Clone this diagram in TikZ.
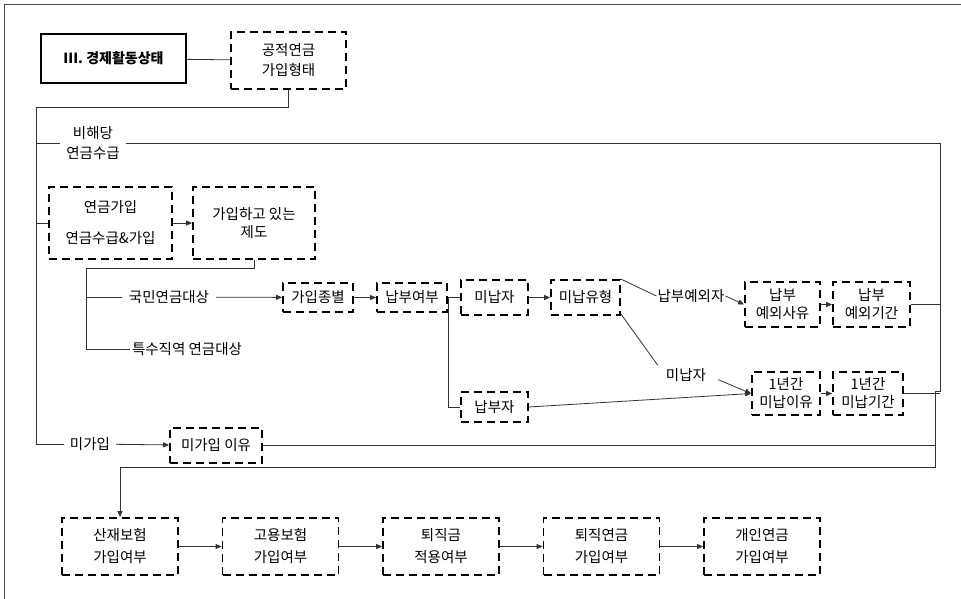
\documentclass[tikz,border=0pt]{standalone}
\usepackage{fontspec}
\setmainfont{Noto Sans CJK KR}
\usetikzlibrary{arrows.meta}

\begin{document}
\begin{tikzpicture}[x=1pt, y=-1pt, >={Triangle[length=6pt, width=5pt]},
    box/.style={draw, dash pattern=on 8pt off 5pt, line width=1.8pt, inner sep=0pt,
        align=center, font=\fontsize{14.5}{18}\selectfont},
    tag/.style={inner sep=6pt, align=center, font=\fontsize{14.5}{20}\selectfont},
    link/.style={line width=0.8pt, draw=black!80}]

    \useasboundingbox (0,0) rectangle (961,599);

    % Frame
    \draw[black!70, line width=0.8pt] (4,599) -- (4,4) -- (961,4);

    % Top
    \node[draw, line width=2pt, minimum width=145pt, minimum height=49pt,
        font=\fontsize{14}{18}\selectfont\bfseries] (iii) at (113.5,58.5) {III. 경제활동상태};
    \node[box, minimum width=115pt, minimum height=57pt] (gongjeok) at (288.5,60.5) {공적연금\\[2pt]가입형태};
    \draw[link] (iii) -- (gongjeok);

    % Trunk coordinates
    \coordinate (tl) at (36,107);
    \coordinate (bl) at (36,444);
    \coordinate (b1) at (36,143);
    \coordinate (b2) at (36,223);
    \coordinate (tr) at (940,143);
    \coordinate (rm) at (940,391);
    \coordinate (rm2) at (935,391);
    \coordinate (br) at (935,467);
    \coordinate (bb) at (120,467);

    % Labels
    \node[tag] (bihaedang) at (93,143) {비해당\\연금수급};
    \node[tag] (migaip) at (90,444) {미가입};
    \node[tag, inner sep=7pt] (gukmin) at (169,297) {국민연금대상};
    \node[tag, inner sep=2pt] (teuksu) at (187,349) {특수직역 연금대상};
    \node[tag, inner sep=1pt] (yeoeja) at (691,296) {납부예외자};
    \node[tag, inner sep=1pt] (minapja) at (686,375) {미납자};

    % Boxes
    \node[box, minimum width=123pt, minimum height=72pt] (gaip) at (110.5,223) {연금가입\\[13pt]연금수급\&가입};
    \node[box, minimum width=122pt, minimum height=72pt] (jedo) at (254,223) {가입하고 있는\\제도};
    \node[box, minimum width=70pt, minimum height=29pt] (jongbyeol) at (318,297.5) {가입종별};
    \node[box, minimum width=70pt, minimum height=29pt] (napbu) at (412,297.5) {납부여부};
    \node[box, minimum width=67pt, minimum height=35pt] (minap) at (494.5,297.5) {미납자};
    \node[box, minimum width=69pt, minimum height=35pt] (yuhyeong) at (585.5,297.5) {미납유형};
    \node[box, minimum width=67pt, minimum height=30pt] (napbuja) at (494.5,407) {납부자};
    \node[box, minimum width=75pt, minimum height=45pt] (saeyu) at (782.5,304.5) {납부\\예외사유};
    \node[box, minimum width=77pt, minimum height=45pt] (gigan) at (871.5,304.5) {납부\\예외기간};
    \node[box, minimum width=68pt, minimum height=43pt] (iyu) at (786,393.5) {1년간\\미납이유};
    \node[box, minimum width=70pt, minimum height=43pt] (mgigan) at (868,393.5) {1년간\\미납기간};
    \node[box, minimum width=92pt, minimum height=35pt] (migaipiyu) at (216,445.5) {미가입 이유};

    % Bottom row
    \foreach \i/\a/\b in {1/산재보험/가입여부, 2/고용보험/가입여부, 3/퇴직금/적용여부,
                          4/퇴직연금/가입여부, 5/개인연금/가입여부}
        \node[box, minimum width=116pt, minimum height=57pt] (s\i) at ({120+160.5*(\i-1)},546.5) {\a\\[4pt]\b};

    \foreach \i/\j in {1/2, 2/3, 3/4, 4/5}
        \draw[link, ->] (s\i) -- (s\j);

    % Left trunk
    \draw[link] (gongjeok.south) |- (tl) -- (bl) -- (migaip.west);
    \draw[link] (b1) -- (bihaedang.west);
    \draw[link] (b2) -- (gaip.west);
    \draw[link, ->] (gaip) -- (jedo);

    % Right trunk
    \draw[link, ->] (bihaedang.east) -- (tr) -- (rm) -- (rm2) -- (br) -- (bb) -- (s1.north);

    % Enrolled
    \coordinate (jl) at (86,268);
    \coordinate (jm) at (86,297);
    \coordinate (jb) at (86,349);
    \draw[link] (jedo.south) |- (jl) -- (jb) -- (teuksu.west);
    \draw[link] (jm) -- (gukmin.west);
    \draw[link, ->] (gukmin) -- (jongbyeol);
    \draw[link, ->] (jongbyeol) -- (napbu);
    \draw[link] (napbu) -- (minap);
    \draw[link] (napbu.east) |- (napbuja.west);
    \draw[link, ->] (minap) -- (yuhyeong);
    \draw[link] (yuhyeong.north east) -- (yeoeja.west);
    \draw[link, ->] (yeoeja.east) -- (saeyu.west);
    \draw[link, ->] (saeyu) -- (gigan);
    \draw[link] (gigan.east) -- (gigan.east -| tr);
    \draw[link, shorten >=12pt] (yuhyeong.-25) -- (minapja.west);
    \draw[link, ->, shorten <=12pt] (minapja.east) -- (iyu.west);
    \draw[link, ->] (napbuja.east) -- (iyu.west);
    \draw[link, ->] (iyu) -- (mgigan);
    \draw[link] (mgigan.east) -- (mgigan.east -| tr);

    % Not enrolled
    \draw[link, ->] (migaip) -- (migaipiyu);
    \draw[link] (migaipiyu.east) -- (migaipiyu.east -| br);

\end{tikzpicture}
\end{document}
